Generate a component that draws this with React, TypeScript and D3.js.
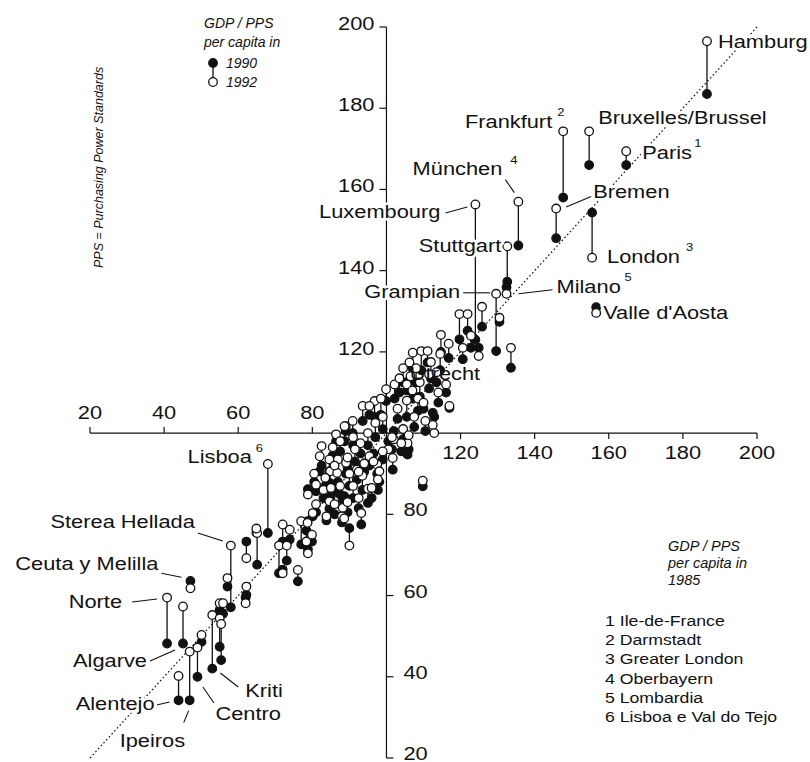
import React from 'react';
import * as d3 from 'd3';

// regions that carry a name on the chart come first, the rest follow unnamed
const regionNames = [
  'Hamburg', 'Frankfurt', 'Bruxelles/Brussel', 'Paris', 'Bremen', 'London', 'München',
  'Luxembourg', 'Stuttgart', 'Milano', 'Grampian', "Valle d'Aosta", 'Utrecht',
  'Lisboa', 'Sterea Hellada', 'Ceuta y Melilla', 'Norte', 'Algarve', 'Ipeiros',
  'Centro', 'Alentejo', 'Kriti',
];

// GDP / PPS per capita, EUR 12 = 100
const gdp1985 = [
  186.5, 147.7, 154.7, 164.7, 145.8, 155.5, 135.6, 124.0, 132.6, 132.4, 129.6, 156.6, 105.5,
  68.0, 58.0, 47.1, 40.8, 45.1, 46.9, 49.0, 43.9, 53.0,
  50.1, 55.0, 55.9, 55.0, 55.4, 57.1, 62.2, 65.1, 64.9, 62.2, 62.0, 72.0, 73.9, 71.0, 73.1,
  72.0, 76.1, 77.0, 78.7, 80.1, 78.8, 81.0, 78.4, 79.9, 78.8, 82.0,
  82.5, 86.4, 89.0, 84.6, 86.9, 89.1, 84.8, 86.7, 87.5, 84.6, 83.8, 88.2, 88.0, 90.0, 93.2,
  95.0, 88.6, 97.5, 98.1, 95.4, 97.7, 101.7, 105.7, 109.8, 112.5, 112.9, 117.0, 116.1,
  114.7, 116.8, 120.6, 119.7, 121.9, 122.8, 125.8, 124.9, 130.5, 133.6, 107.1, 109.4,
  111.1, 106.2, 99.9, 102.2, 96.8, 93.6, 95.4, 90.9, 88.7, 100.5, 102.0, 104.5, 106.0,
  107.5, 103.0, 105.5, 108.5, 110.5, 104.0, 101.5, 107.0, 109.0, 111.5, 113.5, 103.5,
  108.0, 110.0, 114.0, 99.0, 97.0, 95.0, 93.0, 91.5, 98.5, 92.0, 93.5, 91.0, 94.0, 90.0,
  92.5, 96.0, 89.5, 86.0, 83.0, 81.0, 80.5, 83.5, 85.5, 87.5, 91.0, 89.5, 92.5, 96.5,
  99.0, 85.0, 86.0, 104.5, 106.5, 112.0, 114.5,
];

const gdp1990 = [
  183.5, 158.0, 166.0, 166.0, 148.0, 154.3, 146.2, 123.0, 137.3, 135.9, 120.2, 131.0, 110.5,
  75.4, 57.1, 63.6, 48.2, 48.2, 34.2, 40.0, 34.2, 42.0,
  48.6, 56.5, 55.5, 47.4, 44.1, 62.2, 73.3, 67.6, 75.5, 60.2, 59.5, 73.3, 73.8, 65.5, 68.6,
  66.4, 63.5, 72.6, 78.3, 79.5, 86.2, 85.7, 76.0, 73.3, 71.4, 90.6,
  92.0, 98.0, 100.5, 90.6, 88.0, 90.0, 87.7, 85.7, 84.9, 81.4, 78.5, 83.5, 78.0, 76.6, 77.5,
  82.8, 84.5, 90.0, 88.0, 92.0, 86.0, 91.0, 94.7, 86.9, 105.0, 104.0, 106.2, 110.0,
  120.0, 118.5, 118.2, 123.1, 125.2, 121.0, 126.2, 121.0, 127.4, 116.1, 116.0, 115.5,
  117.4, 113.0, 107.9, 108.5, 104.0, 103.0, 104.5, 100.0, 98.0, 98.0, 100.5, 98.5, 96.0,
  101.5, 103.5, 104.0, 105.5, 100.5, 95.5, 96.0, 108.5, 109.0, 111.0, 112.5, 110.0,
  112.5, 106.0, 107.5, 101.0, 99.0, 97.0, 95.0, 93.0, 104.5, 88.5, 86.0, 84.0, 90.5, 87.0,
  81.5, 84.0, 80.5, 80.0, 84.0, 80.5, 88.0, 87.0, 94.5, 95.5, 97.0, 91.5, 92.0, 95.0,
  93.5, 84.5, 91.0, 112.5, 110.5, 113.5, 115.5,
];

const gdp1992 = [
  196.5, 174.3, 174.3, 169.4, 155.3, 143.2, 157.0, 156.3, 146.0, 134.3, 134.3, 129.6, 112.0,
  92.4, 72.3, 61.8, 59.5, 57.3, 46.2, 47.2, 40.2, 55.2,
  50.3, 58.1, 58.1, 54.4, 53.0, 64.3, 69.2, 75.4, 76.5, 62.2, 58.1, 77.5, 76.2, 72.3, 72.3,
  65.5, 66.3, 78.3, 77.9, 80.3, 84.9, 87.3, 73.3, 75.0, 70.4, 94.3,
  96.8, 99.7, 101.7, 93.5, 93.5, 92.7, 90.6, 90.2, 87.0, 83.2, 79.5, 81.6, 79.5, 72.3, 80.3,
  86.3, 79.0, 92.3, 90.6, 94.3, 88.6, 93.9, 97.5, 88.3, 102.0, 100.0, 106.7, 112.0,
  124.2, 122.0, 121.0, 129.3, 129.3, 124.0, 131.1, 119.0, 128.4, 121.0, 119.8, 120.2,
  120.2, 117.4, 110.8, 112.0, 107.9, 106.7, 106.7, 103.0, 101.7, 96.0, 98.5, 101.0, 99.5,
  104.0, 106.0, 108.0, 108.5, 103.0, 97.5, 99.0, 110.5, 112.5, 114.5, 115.0, 113.5,
  116.0, 107.5, 110.0, 104.0, 102.5, 100.0, 97.5, 96.0, 108.5, 91.0, 89.5, 87.0, 92.5, 90.0,
  84.0, 86.5, 83.0, 82.5, 86.0, 82.5, 90.0, 89.0, 96.5, 98.0, 99.0, 94.0, 90.5, 93.0,
  95.5, 86.5, 92.0, 116.0, 114.0, 117.5, 119.5,
];

const yTicksUpper = [120, 140, 160, 180, 200];
const yTicksLower = [20, 40, 60, 80];
const xTicksLeft = [20, 40, 60, 80];
const xTicksRight = [120, 140, 160, 180, 200];

const footnotes = [
  '1 Ile-de-France', '2 Darmstadt', '3 Greater London', '4 Oberbayern', '5 Lombardia',
  '6 Lisboa e Val do Tejo',
];

// label placement, offsets in px from the 1992 point of the region
const labelLayout: Record<string, any> = {
  Hamburg: { dx: 11, dy: 7 },
  Frankfurt: { dx: -11, dy: -3, end: true, sup: '2', sdx: -6, sdy: -15 },
  'Bruxelles/Brussel': { dx: 9, dy: -7 },
  Paris: { dx: 16, dy: 8, sup: '1', sdx: 68, sdy: -4 },
  Bremen: { dx: 37, dy: -11, lead: [10, -1.5, 35, -12] },
  London: { dx: 15, dy: 5, sup: '3', sdx: 94, sdy: -7 },
  'München': { dx: -16, dy: -27, end: true, sup: '4', sdx: -8, sdy: -38, lead: [-13, -22, -4, -9] },
  Luxembourg: { dx: -35, dy: 13.5, end: true, lead: [-30, 8.5, -8, 2.5] },
  Stuttgart: { dx: -6, dy: 6, end: true },
  Milano: { dx: 50, dy: -1, sup: '5', sdx: 118, sdy: -13, lead: [12, 0, 46, -4] },
  Grampian: { dx: -36, dy: 4, end: true, lead: [-33, -1, -6, -1] },
  "Valle d'Aosta": { dx: 7, dy: 6 },
  Utrecht: { dx: 3, dy: -4, plain: true },
  Lisboa: { dx: -16, dy: -1, end: true, sup: '6', sdx: -12, sdy: -12 },
  'Sterea Hellada': { dx: -36, dy: -17.6, end: true, lead: [-33, -12.6, -8, -4.6] },
  'Ceuta y Melilla': { dx: -32, dy: -18, end: true, lead: [-29, -15, -9, -11] },
  Norte: { dx: -45, dy: 10, end: true, lead: [-35, 4.4, -10, 1.4] },
  Algarve: { dx: -36, dy: 60.5, end: true, lead: [-33, 54.5, -8, 43.5] },
  Ipeiros: { dx: -70, dy: 95, lead: [-6, 71, -1, 59] },
  Centro: { dx: 18, dy: 72.5, lead: [5.5, 39.5, 16.5, 55.5] },
  Alentejo: { dx: -24, dy: 34, end: true, lead: [-22, 29, -9, 26] },
  Kriti: { dx: 33, dy: 82, lead: [8, 58, 26, 72] },
};

const FONT = '"Liberation Sans", Arial, Helvetica, sans-serif';
const INK = '#111';

const T = ({ x, y, children, end = false, middle = false, size = 18.5, sx = 1.18, italic = false, halo = false }: any) => (
  <text
    transform={`translate(${x},${y}) scale(${sx},1)`}
    textAnchor={end ? 'end' : middle ? 'middle' : 'start'}
    fontSize={size}
    fontFamily={FONT}
    fontStyle={italic ? 'italic' : 'normal'}
    fill={INK}
    stroke={halo ? '#fff' : 'none'}
    strokeWidth={halo ? 5 : 0}
    strokeLinejoin="round"
    paintOrder="stroke"
  >
    {children}
  </text>
);

export default function App() {
  const width = 810;
  const height = 762;

  const x = d3.scaleLinear().domain([20, 200]).range([90, 757]);
  const y = d3.scaleLinear().domain([20, 200]).range([758, 27]);
  const x0 = x(100);
  const y0 = y(100);
  const r = 4.3;

  const regions = gdp1985.map((v, i) => ({
    name: regionNames[i] || '',
    x: v,
    a: gdp1990[i],
    b: gdp1992[i],
  }));

  const label = (d: any) => {
    const L = labelLayout[d.name];
    if (!L) return null;
    const px = x(d.x);
    const py = y(d.b);
    return (
      <g key={'l' + d.name}>
        {L.lead && (
          <line x1={px + L.lead[0]} y1={py + L.lead[1]} x2={px + L.lead[2]} y2={py + L.lead[3]}
            stroke={INK} strokeWidth={1.1} />
        )}
        <T x={px + L.dx} y={py + L.dy} end={L.end} halo={!L.plain}>{d.name}</T>
        {L.sup && <T x={px + L.sdx} y={py + L.sdy} size={11} halo>{L.sup}</T>}
      </g>
    );
  };

  return (
    <svg width={width} height={height} style={{ position: 'absolute', left: 0, top: 0, background: '#fff' }}>
      {/* diagonal: unchanged relative position */}
      <line x1={x(20)} y1={y(20)} x2={x(200)} y2={y(200)} stroke={INK} strokeWidth={1.2} strokeDasharray="1.6 2.4" />

      {/* horizontal axis at 100 */}
      <line x1={x(20)} y1={y0} x2={x(200)} y2={y0} stroke={INK} strokeWidth={1.2} />
      {xTicksLeft.map(t => (
        <g key={'xl' + t}>
          <line x1={x(t)} x2={x(t)} y1={y0} y2={y0 - 6} stroke={INK} strokeWidth={1.2} />
          <T x={x(t)} y={y0 - 14} middle>{t}</T>
        </g>
      ))}
      {xTicksRight.map(t => (
        <g key={'xr' + t}>
          <line x1={x(t)} x2={x(t)} y1={y0} y2={y0 + 6} stroke={INK} strokeWidth={1.2} />
          <T x={x(t)} y={y0 + 26} middle>{t}</T>
        </g>
      ))}

      {/* vertical axis at 100 */}
      <line x1={x0} y1={y(200)} x2={x0} y2={y(20)} stroke={INK} strokeWidth={1.2} />
      {yTicksUpper.map(t => (
        <g key={'yu' + t}>
          <line x1={x0 - 7} x2={x0} y1={y(t)} y2={y(t)} stroke={INK} strokeWidth={1.2} />
          <T x={x0 - 12} y={y(t) + 3} end>{t}</T>
        </g>
      ))}
      {yTicksLower.map(t => (
        <g key={'yl' + t}>
          <line x1={x0} x2={x0 + 7} y1={y(t)} y2={y(t)} stroke={INK} strokeWidth={1.2} />
          <T x={x0 + 17} y={y(t) + 2}>{t}</T>
        </g>
      ))}

      {/* regions: 1990 filled, 1992 open */}
      {regions.map((d, i) => (
        <line key={'v' + i} x1={x(d.x)} x2={x(d.x)} y1={y(d.a)} y2={y(d.b)} stroke={INK} strokeWidth={1.3} />
      ))}
      {regions.map((d, i) => (
        <circle key={'a' + i} cx={x(d.x)} cy={y(d.a)} r={r} fill={INK} stroke={INK} strokeWidth={1.2} />
      ))}
      {regions.map((d, i) => (
        <circle key={'b' + i} cx={x(d.x)} cy={y(d.b)} r={r} fill="#fff" stroke={INK} strokeWidth={1.3} />
      ))}

      {regions.map(d => label(d))}

      {/* legend */}
      <T x={204} y={28} size={14} sx={1} italic>GDP / PPS</T>
      <T x={204} y={47} size={14} sx={1} italic>per capita in</T>
      <line x1={213} x2={213} y1={63} y2={82} stroke={INK} strokeWidth={1.3} />
      <circle cx={213} cy={63} r={r} fill={INK} stroke={INK} strokeWidth={1.2} />
      <circle cx={213} cy={82} r={r} fill="#fff" stroke={INK} strokeWidth={1.3} />
      <T x={226} y={68} size={14} sx={1} italic>1990</T>
      <T x={226} y={87} size={14} sx={1} italic>1992</T>

      <text transform="translate(103,268) rotate(-90)" fontSize={12.5} fontFamily={FONT} fontStyle="italic" fill={INK}>
        PPS = Purchasing Power Standards
      </text>

      <T x={668} y={551} size={14.5} sx={1} italic>GDP / PPS</T>
      <T x={668} y={568} size={14.5} sx={1} italic>per capita in</T>
      <T x={668} y={585} size={14.5} sx={1} italic>1985</T>

      {footnotes.map((f, i) => (
        <T key={f} x={605} y={626 + i * 19.2} size={15.5} sx={1.14}>{f}</T>
      ))}
    </svg>
  );
}
